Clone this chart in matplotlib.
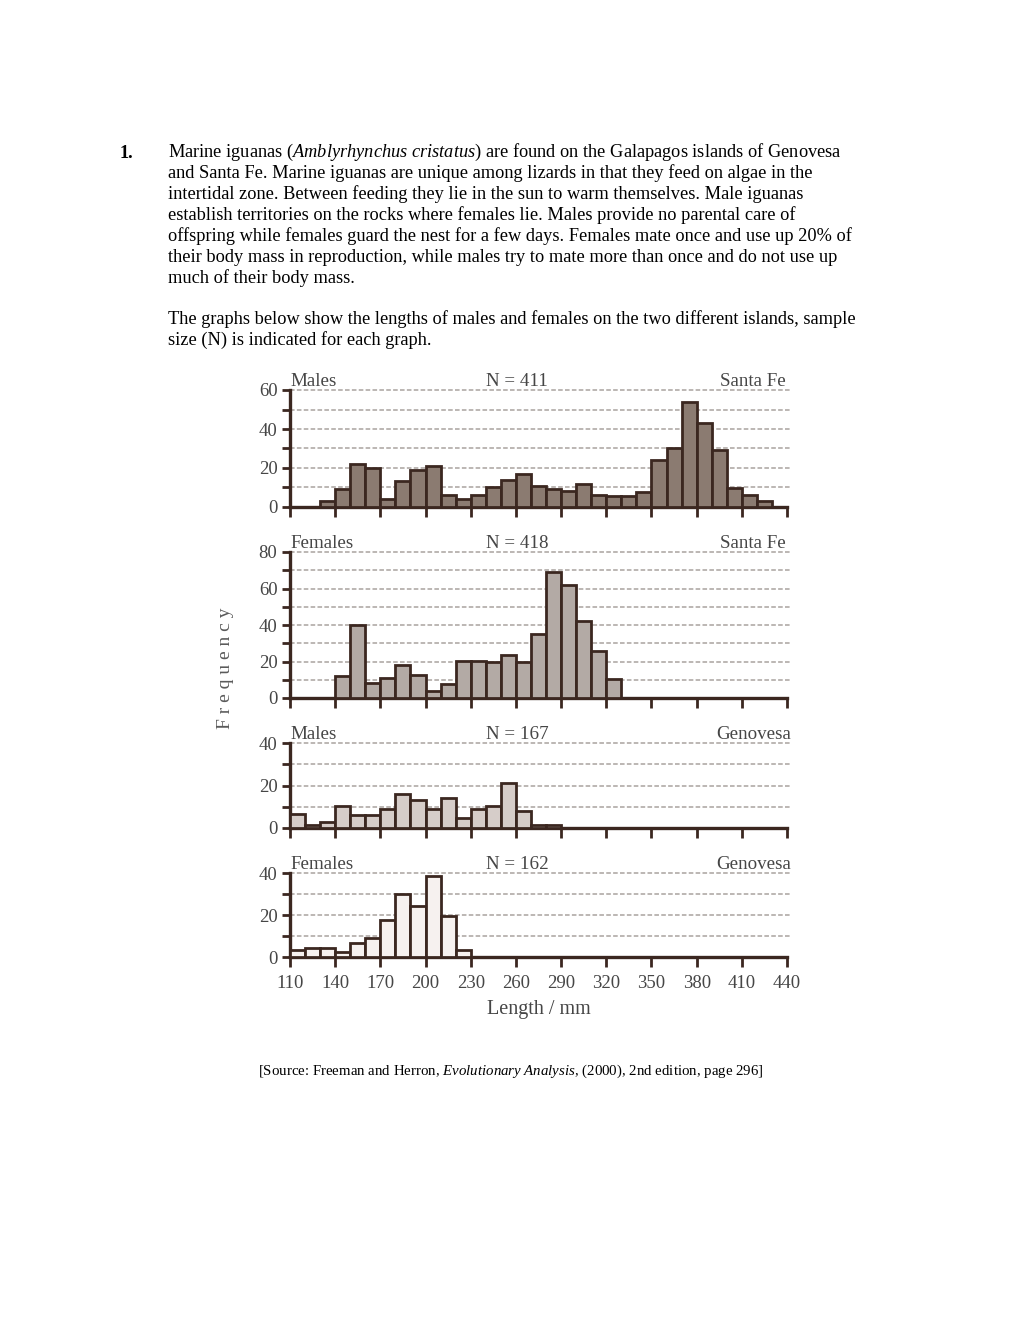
import matplotlib
matplotlib.use("Agg")
import matplotlib.pyplot as plt
import numpy as np

plt.rcParams["font.family"] = ["Liberation Serif", "DejaVu Serif"]
plt.rcParams["mathtext.fontset"] = "custom"
plt.rcParams["mathtext.rm"] = "Liberation Serif"
plt.rcParams["mathtext.it"] = "Liberation Serif:italic"

# ── Data: 10 mm bins from 110 to 440 ───────────────────────────────
bin_edges = list(range(110, 440, 10))
males_santafe = [0, 0, 3, 9, 22, 20, 4, 13.5, 19, 21, 6, 4, 6, 10, 14, 17, 11, 9, 8, 12,
                 6, 5.5, 5.5, 7.5, 24, 30, 54, 43, 29, 9.5, 6, 3, 0]
females_santafe = [0, 0, 0, 12, 40, 8, 11, 18, 12.5, 4, 7.5, 20.5, 20.5, 19.5, 23.5, 20, 35,
                   69, 62, 42, 26, 10.5, 0, 0, 0, 0, 0, 0, 0, 0, 0, 0, 0]
males_genovesa = [6.5, 1.5, 3, 10.5, 6, 6, 9, 16, 13, 9, 14, 4.5, 9, 10.3, 21, 8, 1.5, 1.5,
                  0, 0, 0, 0, 0, 0, 0, 0, 0, 0, 0, 0, 0, 0, 0]
females_genovesa = [3.5, 4.5, 4.5, 2.5, 6.5, 9, 17.5, 30, 24.5, 38.5, 19.5, 3.5, 0, 0, 0, 0,
                    0, 0, 0, 0, 0, 0, 0, 0, 0, 0, 0, 0, 0, 0, 0, 0, 0]
x_ticks = list(range(110, 441, 30))

panels = [
    ("Males", "N = 411", "Santa Fe", males_santafe, 60, "#8b7b71", 390, 507),
    ("Females", "N = 418", "Santa Fe", females_santafe, 80, "#b3aaa5", 552, 698),
    ("Males", "N = 167", "Genovesa", males_genovesa, 40, "#d6cdc9", 743, 828),
    ("Females", "N = 162", "Genovesa", females_genovesa, 40, "#f6f1ef", 873, 957),
]

W, H = 1020, 1320
fig = plt.figure(figsize=(W / 100, H / 100), dpi=100)

# ── Question text ──────────────────────────────────────────────────
fs = 13.2
fig.text(120 / W, 1 - 153 / H, "1.", fontsize=fs, fontweight="bold", va="center")
para = [
    r"Marine iguanas ($\it{Amblyrhynchus\ cristatus}$) are found on the Galapagos islands of Genovesa",
    "and Santa Fe. Marine iguanas are unique among lizards in that they feed on algae in the",
    "intertidal zone. Between feeding they lie in the sun to warm themselves. Male iguanas",
    "establish territories on the rocks where females lie. Males provide no parental care of",
    "offspring while females guard the nest for a few days. Females mate once and use up 20% of",
    "their body mass in reproduction, while males try to mate more than once and do not use up",
    "much of their body mass.",
]
for i, line in enumerate(para):
    fig.text(168 / W, 1 - (152 + 21 * i) / H, line, fontsize=fs, va="center")
para2 = [
    "The graphs below show the lengths of males and females on the two different islands, sample",
    "size (N) is indicated for each graph.",
]
for i, line in enumerate(para2):
    fig.text(168 / W, 1 - (319 + 21 * i) / H, line, fontsize=fs, va="center")

# ── Histograms ─────────────────────────────────────────────────────
edge = "#3b2720"
tc = "#464646"
for k, (sex, n_txt, island, vals, top, color, ytop, y0) in enumerate(panels):
    ax = fig.add_axes([290 / W, 1 - y0 / H, 497 / W, (y0 - ytop) / H])
    ax.bar(bin_edges, vals, width=10, align="edge", color=color,
           edgecolor=edge, linewidth=2.0, zorder=3)
    for g in range(10, top + 1, 10):
        ax.axhline(g, xmin=0, xmax=1.006, color="#a9a39f", linestyle=(0, (3, 1.5)),
                   linewidth=1.1, zorder=1, clip_on=False)
    ax.set_xlim(110, 440)
    ax.set_ylim(0, top)
    for s in ["top", "right"]:
        ax.spines[s].set_visible(False)
    for s in ["left", "bottom"]:
        ax.spines[s].set_color(edge)
        ax.spines[s].set_linewidth(2.4)
    ax.set_yticks(range(0, top + 1, 20))
    ax.set_yticks(range(10, top, 20), minor=True)
    ax.set_xticks(x_ticks)
    ax.tick_params(axis="y", which="both", direction="out", length=6, width=2.0,
                   color=edge, labelsize=13.5, labelcolor=tc, pad=3)
    ax.tick_params(axis="x", direction="out", length=7, width=2.0, color=edge,
                   labelsize=13.5, labelcolor=tc, pad=6)
    if k < 3:
        ax.set_xticklabels([])
    right_x = 439 if island == "Santa Fe" else 443
    ax.text(110.5, top, sex, fontsize=13.7, color=tc, va="bottom", ha="left")
    ax.text(240, top, n_txt, fontsize=13.7, color=tc, va="bottom", ha="left")
    ax.text(right_x, top, island, fontsize=13.7, color=tc, va="bottom", ha="right")
    if k == 3:
        ax.set_xlabel("Length / mm", fontsize=14.5, color=tc, labelpad=6)

fig.text(226 / W, 1 - 668 / H, "F r e q u e n c y", rotation=90, fontsize=14,
         color="#5a5a5a", ha="center", va="center")

fig.text(511 / W, 1 - 1071 / H,
         r"[Source: Freeman and Herron, $\it{Evolutionary\ Analysis}$, (2000), 2nd edition, page 296]",
         fontsize=10.7, ha="center", va="center")

fig.savefig("out.png", dpi=100)
